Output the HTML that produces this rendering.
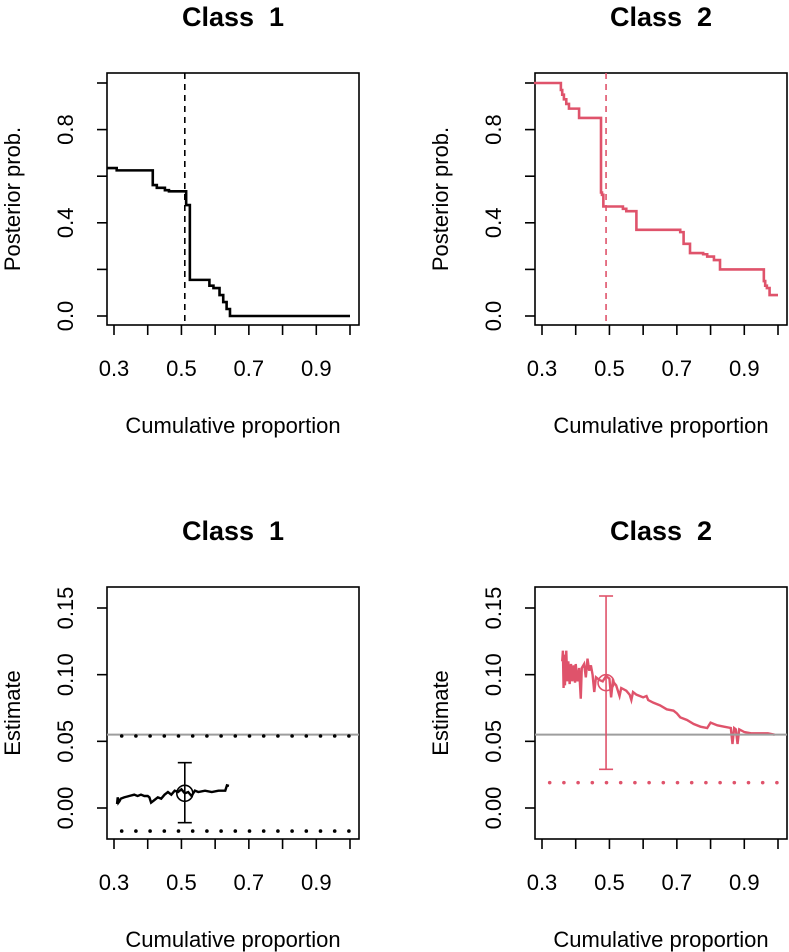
<!DOCTYPE html>
<html><head><meta charset="utf-8"><style>
html,body{margin:0;padding:0;background:#fff;}
svg{display:block;font-family:"Liberation Sans",Arial,sans-serif;}
</style></head><body>
<svg id="c" width="789" height="952" xmlns="http://www.w3.org/2000/svg"></svg>
<script>
// ---- data ----
const xTicks = [0.3,0.4,0.5,0.6,0.7,0.8,0.9,1.0];
const xTickLabels = ["0.3","0.5","0.7","0.9"];
const postTicks = [0,0.2,0.4,0.6,0.8,1.0];
const postTickLabels = ["0.0","0.4","0.8"];
const estTicks = [0,0.05,0.10,0.15];
const estTickLabels = ["0.00","0.05","0.10","0.15"];

const c1PostX = [0.28,0.308,0.415,0.427,0.451,0.463,0.514,0.52,0.525,0.583,0.595,0.613,0.624,0.634,0.644,1.0];
const c1PostY = [0.635,0.625,0.562,0.55,0.54,0.535,0.476,0.476,0.155,0.13,0.12,0.09,0.06,0.03,0.0,0.0];
const c1Cut = 0.51;

const c2PostX = [0.276,0.356,0.36,0.365,0.372,0.38,0.41,0.475,0.478,0.482,0.54,0.55,0.58,0.71,0.72,0.739,0.778,0.79,0.81,0.828,0.958,0.962,0.967,0.975,1.0];
const c2PostY = [1.0,0.97,0.95,0.93,0.91,0.89,0.85,0.53,0.52,0.47,0.46,0.45,0.37,0.36,0.31,0.27,0.265,0.255,0.24,0.20,0.15,0.13,0.12,0.09,0.09];
const c2Cut = 0.49;

const c1EstX = [0.309,0.311,0.313,0.316,0.32,0.33,0.345,0.36,0.37,0.38,0.39,0.40,0.405,0.41,0.42,0.43,0.44,0.45,0.46,0.47,0.48,0.49,0.50,0.51,0.52,0.53,0.54,0.55,0.57,0.59,0.61,0.63,0.635,0.641];
const c1EstY = [0.003,0.008,0.004,0.005,0.007,0.008,0.009,0.010,0.009,0.010,0.009,0.009,0.008,0.004,0.006,0.008,0.007,0.010,0.012,0.010,0.013,0.012,0.014,0.011,0.012,0.009,0.013,0.012,0.013,0.012,0.013,0.013,0.017,0.0166];
const c1Point = [0.51,0.011,-0.011,0.034];
const c1Ref = 0.055, c1Dot1 = 0.054, c1Dot2 = -0.0173;

const c2EstX = [0.36,0.362,0.364,0.366,0.368,0.372,0.375,0.378,0.382,0.386,0.39,0.394,0.398,0.40,0.405,0.41,0.415,0.418,0.425,0.43,0.435,0.44,0.445,0.45,0.455,0.46,0.47,0.48,0.49,0.50,0.505,0.51,0.52,0.53,0.535,0.55,0.56,0.565,0.57,0.58,0.60,0.61,0.615,0.63,0.65,0.67,0.69,0.70,0.71,0.73,0.75,0.77,0.79,0.80,0.82,0.84,0.86,0.865,0.87,0.875,0.88,0.885,0.90,0.92,0.95,0.97,0.99];
const c2EstY = [0.110,0.118,0.090,0.115,0.092,0.118,0.095,0.110,0.093,0.108,0.095,0.107,0.094,0.108,0.095,0.105,0.082,0.105,0.108,0.098,0.112,0.103,0.107,0.100,0.087,0.098,0.096,0.095,0.099,0.097,0.083,0.095,0.092,0.084,0.090,0.088,0.085,0.081,0.087,0.085,0.083,0.084,0.081,0.079,0.077,0.074,0.073,0.071,0.068,0.066,0.063,0.061,0.060,0.064,0.062,0.061,0.060,0.048,0.060,0.059,0.048,0.059,0.057,0.056,0.056,0.056,0.055];
const c2Point = [0.49,0.094,0.029,0.159];
const c2Ref = 0.055, c2Dot = 0.019;

// ---- drawing ----
const svg = document.getElementById('c');
const NS = 'http://www.w3.org/2000/svg';
const PINK = '#DF536B';
function el(tag, attrs, parent){ const e=document.createElementNS(NS,tag); for(const k in attrs) e.setAttribute(k,attrs[k]); (parent||svg).appendChild(e); return e; }

// v0 maps to pixel offset p0 above the box bottom; v1 maps to p1 below the box top
function panel(ox, oy, title, ylab, v0, off0, v1, off1, yTicks, yLabels, name){
  const g = el('g',{});
  
  
  const L=ox, R=ox+252, T=oy, B=oy+252;
  const xs = v => (ox+7) + (v-0.3)*(236/0.7);
  const py0 = B-off0, py1 = T+off1;
  const ys = v => py0 - (v-v0)/(v1-v0)*(py0-py1);
  const t = el('text',{x:(L+R)/2,y:T-47,'text-anchor':'middle','font-size':27,'font-weight':'bold','xml:space':'preserve'},g);
  t.style.whiteSpace='pre';
  t.textContent = title;
  
  
  const box = el('rect',{x:L,y:T,width:R-L,height:B-T,fill:'none',stroke:'#000','stroke-width':1.6},g);
  
  
  xTicks.forEach(v=>{ el('line',{x1:xs(v),x2:xs(v),y1:B,y2:B+10,stroke:'#000','stroke-width':1.6},g); });
  xTickLabels.forEach(s=>{ const tx=el('text',{x:xs(+s),y:B+51,'text-anchor':'middle','font-size':22},g); tx.textContent=s;
    
     });
  yTicks.forEach(v=>{ el('line',{x1:L,x2:L-10,y1:ys(v),y2:ys(v),stroke:'#000','stroke-width':1.6},g); });
  yLabels.forEach(s=>{ const yy=ys(+s); const tx=el('text',{x:0,y:0,'text-anchor':'middle','font-size':22,transform:`translate(${L-34},${yy}) rotate(-90)`},g); tx.textContent=s;
    
     });
  const xl = el('text',{x:(L+R)/2,y:B+108,'text-anchor':'middle','font-size':22},g); xl.textContent='Cumulative proportion';
  
  
  const yl = el('text',{x:0,y:0,'text-anchor':'middle','font-size':22,transform:`translate(${L-87},${(T+B)/2}) rotate(-90)`},g); yl.textContent=ylab;
  
  
  return {g,xs,ys,L,R,T,B};
}
function stepPath(p, X, Y){ let d=`M${p.xs(X[0])},${p.ys(Y[0])}`; for(let i=1;i<X.length;i++){ d+=`H${p.xs(X[i])}V${p.ys(Y[i])}`; } return d; }
function linePath(p, X, Y){ return X.map((x,i)=>(i?'L':'M')+p.xs(x)+','+p.ys(Y[i])).join(''); }
function dots(p, y, color, name){ const g=el('g',{},p.g);  
  for(let x=p.L+14.7;x<p.R-2;x+=14.2){ el('circle',{cx:x,cy:p.ys(y),r:1.8,fill:color},g);} }
function errbar(p, pt, color){ const g=el('g',{},p.g);  
  const x=p.xs(pt[0]);
  el('line',{x1:x,x2:x,y1:p.ys(pt[2]),y2:p.ys(pt[3]),stroke:color,'stroke-width':1.6},g);
  el('line',{x1:x-7,x2:x+7,y1:p.ys(pt[2]),y2:p.ys(pt[2]),stroke:color,'stroke-width':1.6},g);
  el('line',{x1:x-7,x2:x+7,y1:p.ys(pt[3]),y2:p.ys(pt[3]),stroke:color,'stroke-width':1.6},g);
  el('circle',{cx:x,cy:p.ys(pt[1]),r:8,fill:'none',stroke:color,'stroke-width':1.6},g); }

// Top-left
let p = panel(107,73,'Class  1','Posterior prob.',0,9,1,10,postTicks,postTickLabels,'panel-class1-posterior');
let s = el('path',{d:stepPath(p,c1PostX,c1PostY),fill:'none',stroke:'#000','stroke-width':2.6},p.g);
 
s = el('line',{x1:p.xs(c1Cut),x2:p.xs(c1Cut),y1:p.T,y2:p.B,stroke:'#000','stroke-width':1.6,'stroke-dasharray':'6,5'},p.g);
 

// Top-right
p = panel(535,73,'Class  2','Posterior prob.',0,9,1,10,postTicks,postTickLabels,'panel-class2-posterior');
s = el('path',{d:stepPath(p,c2PostX,c2PostY),fill:'none',stroke:PINK,'stroke-width':2.6},p.g);
 
s = el('line',{x1:p.xs(c2Cut),x2:p.xs(c2Cut),y1:p.T,y2:p.B,stroke:PINK,'stroke-width':1.6,'stroke-dasharray':'6,5'},p.g);
 

// Bottom-left
p = panel(107,587,'Class  1','Estimate',0,31,0.15,21,estTicks,estTickLabels,'panel-class1-estimate');
s = el('line',{x1:p.L,x2:p.R,y1:p.ys(c1Ref),y2:p.ys(c1Ref),stroke:'#9E9E9E','stroke-width':2},p.g);
 
dots(p,c1Dot1,'#000','upper-dotted-line'); dots(p,c1Dot2,'#000','lower-dotted-line');
s = el('path',{d:linePath(p,c1EstX,c1EstY),fill:'none',stroke:'#000','stroke-width':2.4},p.g);
 
errbar(p,c1Point,'#000');

// Bottom-right
p = panel(535,587,'Class  2','Estimate',0,31,0.15,21,estTicks,estTickLabels,'panel-class2-estimate');
dots(p,c2Dot,PINK,'dotted-line');
s = el('path',{d:linePath(p,c2EstX,c2EstY),fill:'none',stroke:PINK,'stroke-width':2.4},p.g);
 
s = el('line',{x1:p.L,x2:p.R,y1:p.ys(c2Ref),y2:p.ys(c2Ref),stroke:'#9E9E9E','stroke-width':2},p.g);
 
errbar(p,c2Point,PINK);
</script>
</body></html>
